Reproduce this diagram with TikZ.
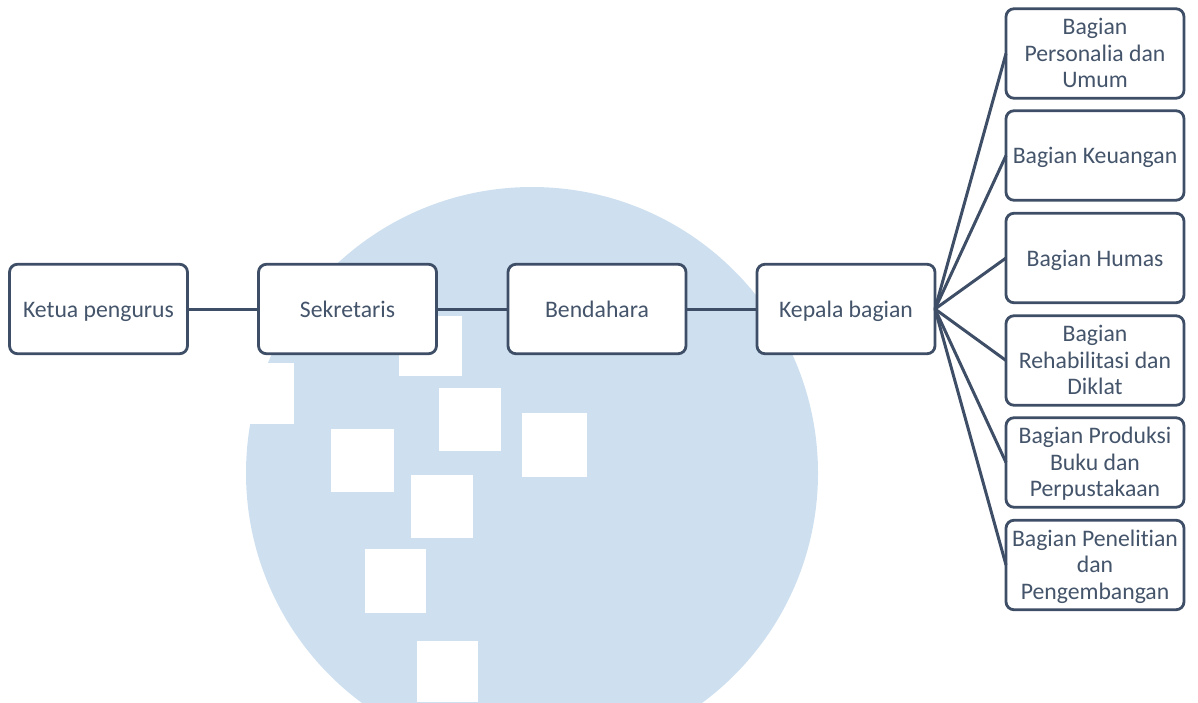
\documentclass[tikz,border=0pt]{standalone}
\usepackage{fontspec}
\setmainfont[Ligatures=NoCommon]{Carlito}
\definecolor{wm}{HTML}{CEE0EF}
\definecolor{ink}{HTML}{3E4E66}
\definecolor{txt}{HTML}{44546A}
\newcommand{\firstln}{\rule{0pt}{23.2pt}}
\newcommand{\lastln}{\rule[-8pt]{0pt}{8pt}}
\tikzset{
  px/.style={x=1pt,y=-1pt},
  orgbox/.style={draw=ink,fill=white,line width=2.8pt,rounded corners=8pt,inner sep=0pt,outer sep=0pt,
    minimum width=178pt,minimum height=89.5pt,align=center,text=txt,
    font=\fontsize{23.7pt}{26.4pt}\selectfont},
  oneline/.style={orgbox,execute at begin node=\rule{0pt}{24.5pt},execute at end node=\strut},
  link/.style={draw=ink,line width=3pt},
  hole/.style={fill=white,draw=none},
}
\begin{document}
\begin{tikzpicture}[px]
\useasboundingbox (0,0) rectangle (1198,702);
% watermark
\begin{scope}
  \clip (0,0) rectangle (1198,702);
  \fill[wm] (532,473) circle[radius=286pt];
  \fill[hole] (240,363) rectangle (294,424);
  \fill[hole] (399,316) rectangle (462,376);
  \fill[hole] (439,388) rectangle (501,451);
  \fill[hole] (522,413) rectangle (587,477);
  \fill[hole] (331,429) rectangle (394,492);
  \fill[hole] (411,475) rectangle (473,538);
  \fill[hole] (365,549) rectangle (426,613);
  \fill[hole] (417,641) rectangle (478,702);
\end{scope}
% boxes
\node[oneline] (ketua) at (98.5,309) {Ketua pengurus};
\node[oneline] (sek) at (347.5,309) {Sekretaris};
\node[oneline] (ben) at (597,309) {Bendahara};
\node[oneline] (kep) at (846,309) {Kepala bagian};
\node[orgbox] (b1) at (1095,53.5) {\firstln Bagian\\Personalia dan\\Umum\lastln};
\node[oneline] (b2) at (1095,155.5) {Bagian Keuangan};
\node[oneline] (b3) at (1095,258) {Bagian Humas};
\node[orgbox] (b4) at (1095,360.5) {\firstln Bagian\\Rehabilitasi dan\\Diklat\lastln};
\node[orgbox] (b5) at (1095,462.5) {\firstln Bagian Produksi\\Buku dan\\Perpustakaan\lastln};
\node[orgbox] (b6) at (1095,565) {\firstln Bagian Penelitian\\dan\\Pengembangan\lastln};
% connectors
\draw[link] (ketua.east) -- (sek.west);
\draw[link] (sek.east) -- (ben.west);
\draw[link] (ben.east) -- (kep.west);
\foreach \t in {b1,b2,b3,b4,b5,b6} \draw[link] (kep.east) -- (\t.west);
\end{tikzpicture}
\end{document}
